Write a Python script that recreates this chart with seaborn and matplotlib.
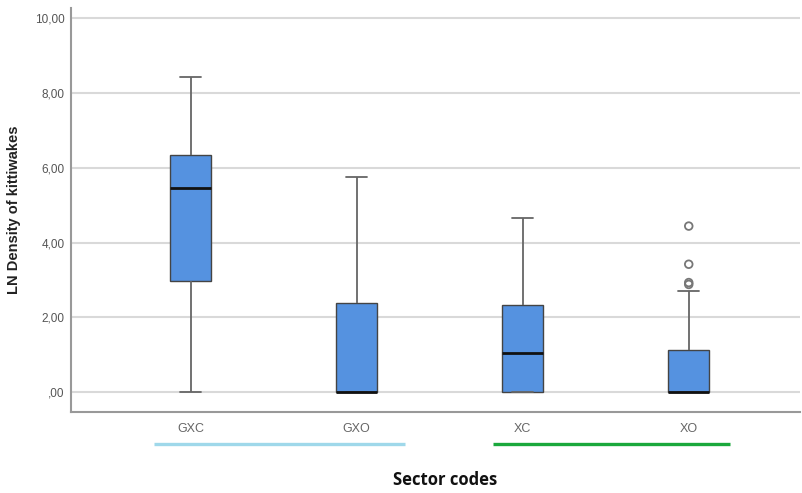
import numpy as np
import pandas as pd
import matplotlib
matplotlib.use("Agg")
import matplotlib.pyplot as plt
import matplotlib.transforms as mtransforms
import seaborn as sns

# ---- data ----
categories = ["GXC", "GXO", "XC", "XO"]
whisker_low = [0.00, 0.00, 0.00, 0.00]
q1 = [2.97, 0.00, 0.00, 0.00]
median = [5.45, 0.00, 1.04, 0.00]
q3 = [6.34, 2.38, 2.33, 1.12]
whisker_high = [8.42, 5.75, 4.65, 2.70]
outlier_cat = ["XO", "XO", "XO", "XO"]
outlier_val = [2.88, 2.93, 3.42, 4.44]
yticks = [0, 2, 4, 6, 8, 10]
ytick_labels = [",00", "2,00", "4,00", "6,00", "8,00", "10,00"]

# five-number samples per group (quartiles reproduce the box stats exactly)
rows = []
for i, c in enumerate(categories):
    for v in (whisker_low[i], q1[i], median[i], q3[i], whisker_high[i]):
        rows.append({"sector": c, "value": v})
df = pd.DataFrame(rows)
df_out = pd.DataFrame({"sector": outlier_cat, "value": outlier_val})

sns.set_theme(style="white")
fig = plt.figure(figsize=(8.02, 4.93), dpi=100)
ax = fig.add_axes([71 / 802, 1 - 412 / 493, (800 - 71) / 802, (412 - 8) / 493])

box_color = "#5592E0"
sns.boxplot(data=df, x="sector", y="value", order=categories, ax=ax,
            color=box_color, width=0.25, whis=(0, 100), linewidth=1.2,
            linecolor="#555555", showfliers=False, saturation=1,
            boxprops=dict(edgecolor="#444444", linewidth=1.0),
            whiskerprops=dict(color="#666666", linewidth=1.3),
            capprops=dict(color="#666666", linewidth=1.3),
            medianprops=dict(color="#111111", linewidth=2.0))
sns.stripplot(data=df_out, x="sector", y="value", order=categories, ax=ax,
              jitter=False, size=5.5, marker="o", color="#777777",
              edgecolor="#777777", linewidth=1.3)
for coll in ax.collections:
    coll.set_facecolor("none")

ax.set_xlim(-0.72, 3.67)
ax.set_ylim(-0.53, 10.27)
ax.set_yticks(yticks)
ax.set_yticklabels(ytick_labels, fontsize=8.5, color="#555555",
                   family="Liberation Sans")
ax.set_xticks(range(len(categories)))
ax.set_xticklabels(categories, fontsize=9, color="#666666", family="Liberation Sans")
ax.tick_params(axis="both", length=0)
ax.tick_params(axis="y", pad=4.5)
ax.tick_params(axis="x", pad=8)
ax.yaxis.grid(True, color="#d9d9d9", linewidth=1.5)
ax.set_axisbelow(True)
for s in ("top", "right"):
    ax.spines[s].set_visible(False)
for s in ("left", "bottom"):
    ax.spines[s].set_color("#999999")
    ax.spines[s].set_linewidth(1.5)

ax.set_xlabel("")
ax.set_ylabel("LN Density of kittiwakes", fontsize=10.5, color="#222222",
              family="Liberation Sans", fontweight="bold", labelpad=10)

# coloured group underlines below the category labels
trans = mtransforms.blended_transform_factory(ax.transData, ax.transAxes)
ax.plot([-0.22, 1.29], [-0.079, -0.079], color="#9fd8ea", linewidth=2.4,
        transform=trans, clip_on=False, solid_capstyle="butt")
ax.plot([1.82, 3.25], [-0.079, -0.079], color="#1aa83c", linewidth=2.4,
        transform=trans, clip_on=False, solid_capstyle="butt")

fig.text(445 / 802, 1 - 480 / 493, "Sector codes", ha="center", va="center",
         fontsize=12, fontweight="bold", family="Open Sans", color="#111111")

fig.savefig("out.png", dpi=100, facecolor="white")
